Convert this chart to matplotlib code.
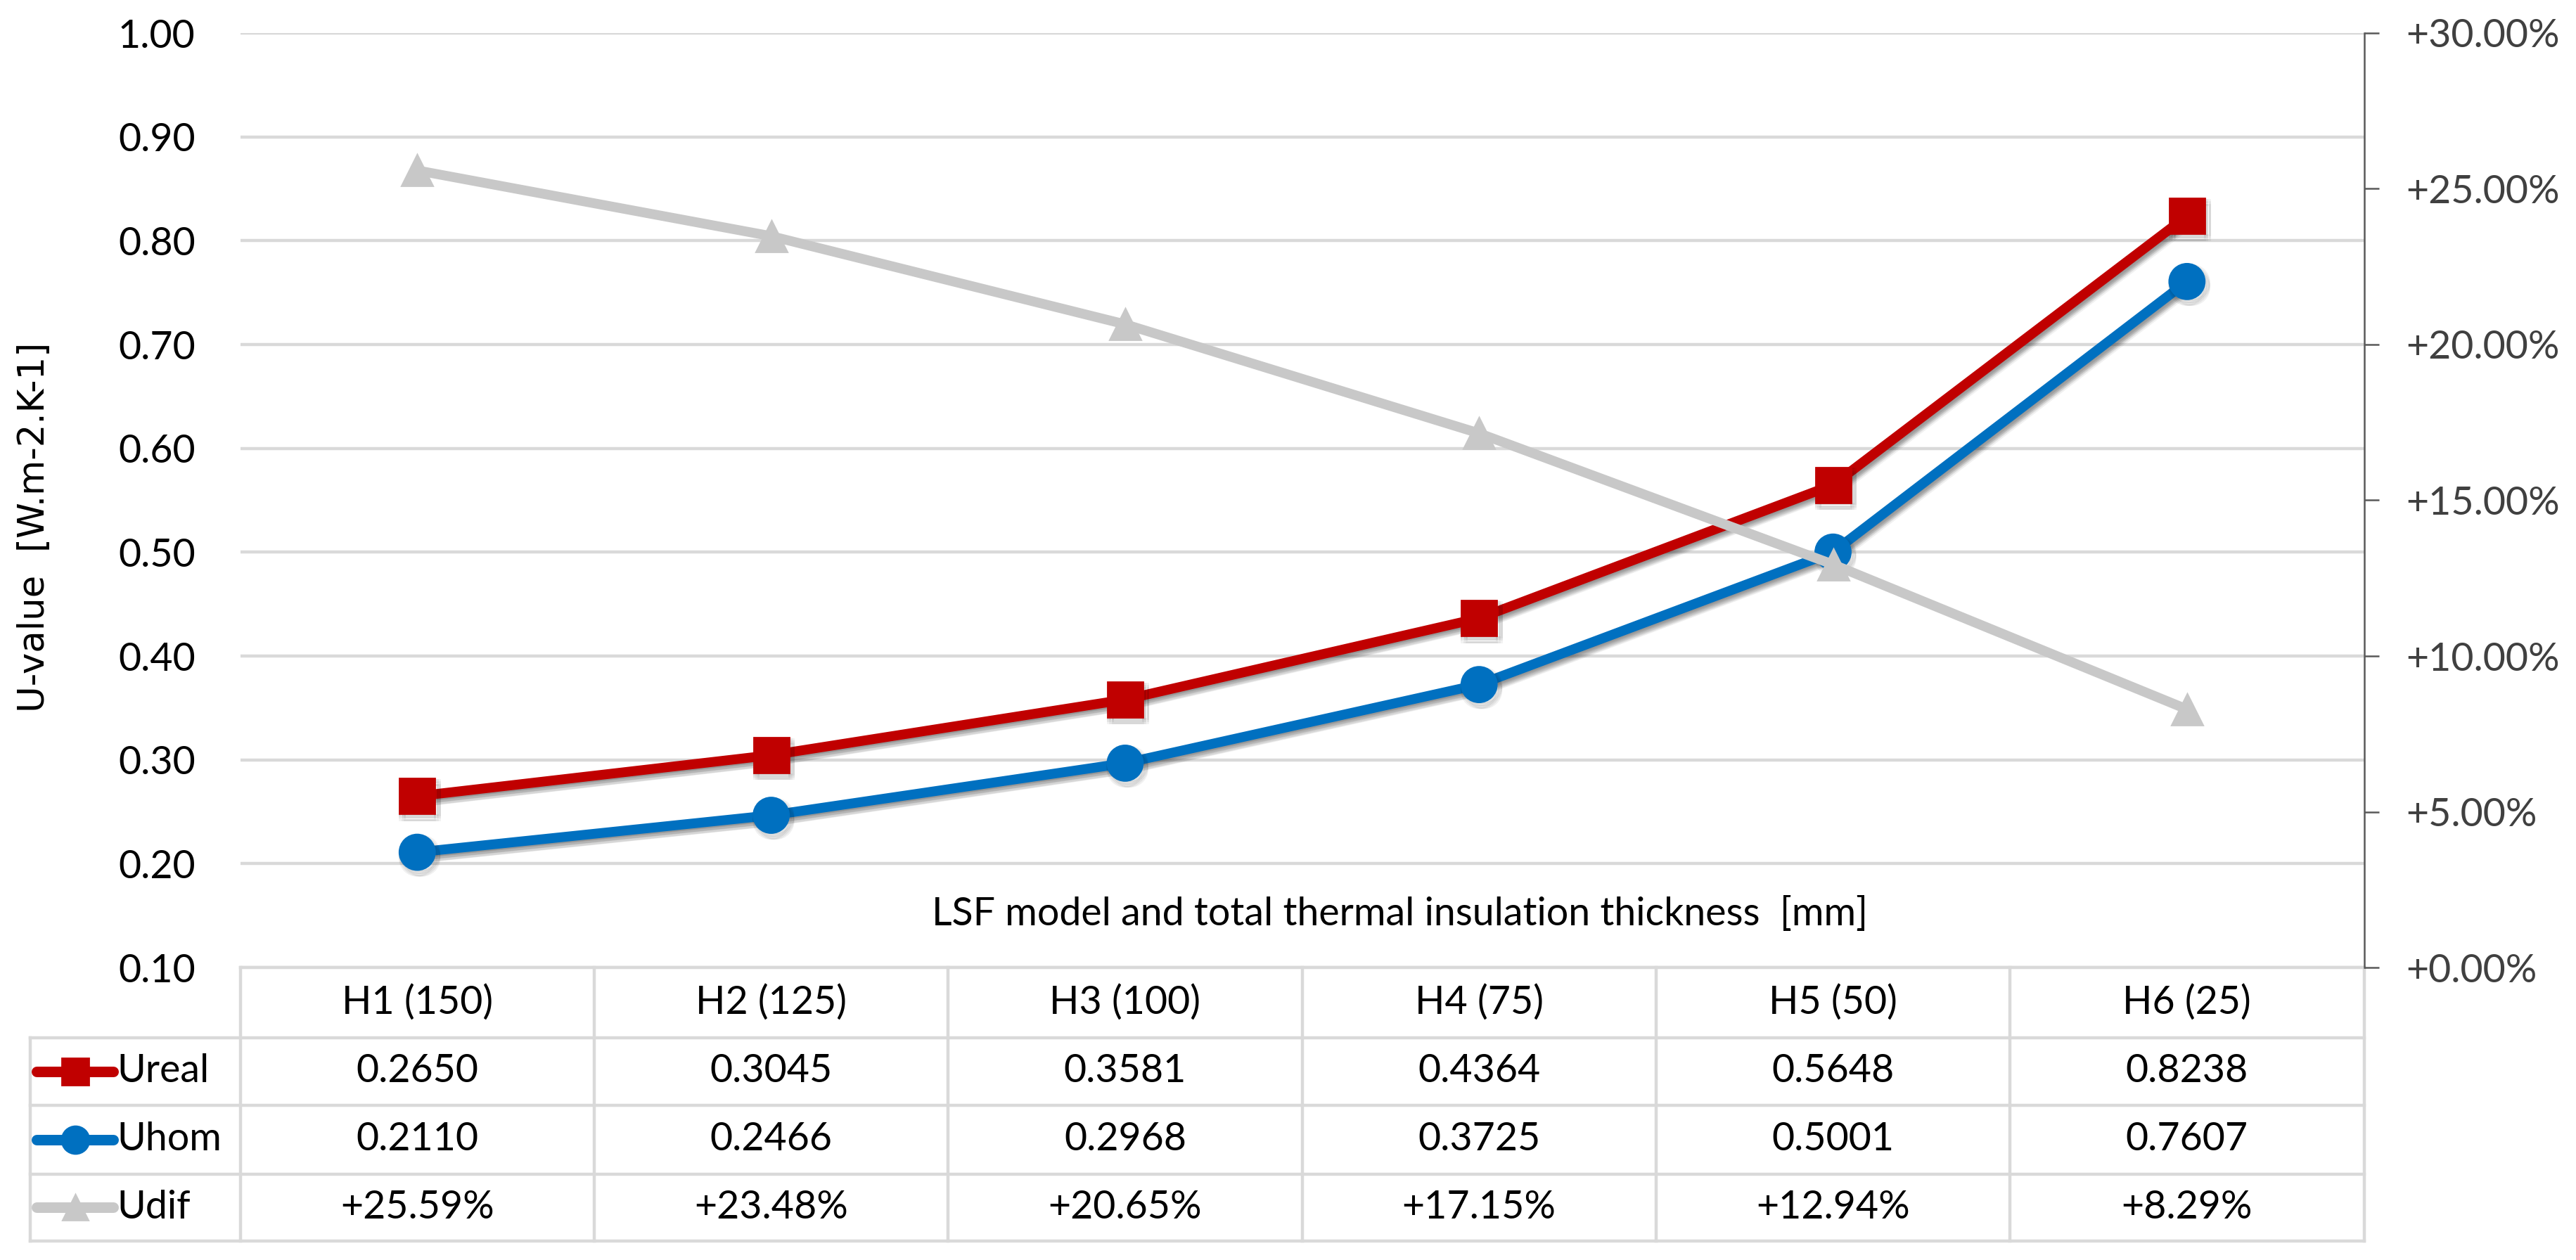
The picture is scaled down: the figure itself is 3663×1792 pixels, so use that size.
import matplotlib
matplotlib.use("Agg")
import matplotlib.pyplot as plt
import matplotlib.transforms as mtransforms
import matplotlib.patheffects as pe
from matplotlib.lines import Line2D

# ---------------- data ----------------
categories = ["H1 (150)", "H2 (125)", "H3 (100)", "H4 (75)", "H5 (50)", "H6 (25)"]
u_real = [0.2650, 0.3045, 0.3581, 0.4364, 0.5648, 0.8238]
u_hom = [0.2110, 0.2466, 0.2968, 0.3725, 0.5001, 0.7607]
u_dif = [25.59, 23.48, 20.65, 17.15, 12.94, 8.29]   # percent
series_names = ["Ureal", "Uhom", "Udif"]
left_ticks = [0.10, 0.20, 0.30, 0.40, 0.50, 0.60, 0.70, 0.80, 0.90, 1.00]
right_ticks = [0, 5, 10, 15, 20, 25, 30]
x_label = "LSF model and total thermal insulation thickness  [mm]"
y_label = "U-value  [W.m-2.K-1]"

RED = "#C00000"
BLUE = "#0070C0"
GRAY = "#C8C8C8"
GRID = "#D9D9D9"
AXIS = "#595959"

plt.rcParams["font.family"] = ["Lato", "DejaVu Sans"]

W, H, DPI = 3663, 1792, 200
fig = plt.figure(figsize=(W / DPI, H / DPI), dpi=DPI)

x0, x1 = 341.6, 3361.5
y_top, y_bot = 47, 1376
ax = fig.add_axes([x0 / W, 1 - y_bot / H, (x1 - x0) / W, (y_bot - y_top) / H])
xs = list(range(len(categories)))
ax.set_xlim(-0.5, len(categories) - 0.5)
ax.set_ylim(left_ticks[0], left_ticks[-1])
ax.set_yticks(left_ticks)
ax.set_yticklabels([f"{v:.2f}" for v in left_ticks])
ax.tick_params(axis="y", length=0, pad=23, labelsize=20, labelcolor="black")
ax.set_xticks([])
for s in ax.spines.values():
    s.set_visible(False)
ax.yaxis.grid(True, color=GRID, lw=1.6)
ax.set_axisbelow(True)

# soft drop shadow built from several faint offset copies
shadow = []
for dx in (-0.6, 0.6, 1.8):
    for dy in (-1.2, -2.4, -3.6):
        shadow.append(pe.SimpleLineShadow(offset=(dx + 0.6, dy + 0.6), shadow_color="black", alpha=0.055))
shadow.append(pe.Normal())

ax.plot(xs, u_real, color=RED, lw=5, marker="s", ms=18, zorder=3, path_effects=shadow)
ax.plot(xs, u_hom, color=BLUE, lw=5, marker="o", ms=18, zorder=3, path_effects=shadow)

ax2 = ax.twinx()
ax2.set_ylim(right_ticks[0], right_ticks[-1])
ax2.set_yticks(right_ticks)
ax2.set_yticklabels([f"+{v:.2f}%" for v in right_ticks])
ax2.tick_params(axis="y", direction="out", length=7.6, width=0.9, color=AXIS,
                pad=14, labelsize=20, labelcolor="#404040")
for k, s in ax2.spines.items():
    s.set_visible(k == "right")
ax2.spines["right"].set_color(AXIS)
ax2.spines["right"].set_linewidth(0.9)
ax2.plot(xs, u_dif, color=GRAY, lw=5, marker="^", ms=16, zorder=3)
ax2.set_xlim(ax.get_xlim())

# x label inside plot area
ax.text(0.546, 0.057, x_label, transform=ax.transAxes, ha="center", va="center",
        fontsize=20, color="black")

# y label
fig.text(48 / W, 1 - 750 / H, y_label, rotation=90, ha="center", va="center",
         fontsize=18.5, family="DejaVu Sans", color="black")

# ---------------- data table ----------------
trans = mtransforms.blended_transform_factory(ax.transData, ax.transAxes)
row_edges = [0.0, -0.0749, -0.1473, -0.2212, -0.2927]
unit = (x1 - x0) / len(categories)
x_leg = (43 - x0) / unit - 0.5
lw_tab = 1.6


def hline(y, xa, xb):
    ax.add_line(Line2D([xa, xb], [y, y], transform=trans, color=GRID, lw=lw_tab,
                       clip_on=False, zorder=1))


def vline(x, ya, yb):
    ax.add_line(Line2D([x, x], [ya, yb], transform=trans, color=GRID, lw=lw_tab,
                       clip_on=False, zorder=1))


hline(row_edges[0], -0.5, len(categories) - 0.5)
for y in row_edges[1:]:
    hline(y, x_leg, len(categories) - 0.5)
for i in range(len(categories) + 1):
    vline(i - 0.5, row_edges[0], row_edges[-1])
vline(x_leg, row_edges[1], row_edges[-1])

# header
yc = (row_edges[0] + row_edges[1]) / 2
for i, c in enumerate(categories):
    ax.text(i, yc, c, transform=trans, ha="center", va="center", fontsize=20, clip_on=False)

rows = [
    [f"{v:.4f}" for v in u_real],
    [f"{v:.4f}" for v in u_hom],
    [f"+{v:.2f}%" for v in u_dif],
]
styles = [(RED, "s", 14), (BLUE, "o", 14), (GRAY, "^", 13)]
lx_a = (52 - x0) / unit - 0.5
lx_b = (161 - x0) / unit - 0.5
lx_m = (107 - x0) / unit - 0.5
lx_t = (166 - x0) / unit - 0.5
for r, (vals, name, (col, mk, ms)) in enumerate(zip(rows, series_names, styles)):
    yc = (row_edges[r + 1] + row_edges[r + 2]) / 2
    for i, v in enumerate(vals):
        ax.text(i, yc, v, transform=trans, ha="center", va="center", fontsize=20, clip_on=False)
    ax.add_line(Line2D([lx_a, lx_b], [yc, yc], transform=trans, color=col, lw=5.4,
                       solid_capstyle="round", clip_on=False, zorder=4))
    ax.add_line(Line2D([lx_m], [yc], transform=trans, color=col, marker=mk, ms=ms,
                       lw=0, clip_on=False, zorder=5))
    ax.text(lx_t, yc, name, transform=trans, ha="left", va="center", fontsize=20, clip_on=False)

fig.savefig("out.png", dpi=DPI, facecolor="white")
